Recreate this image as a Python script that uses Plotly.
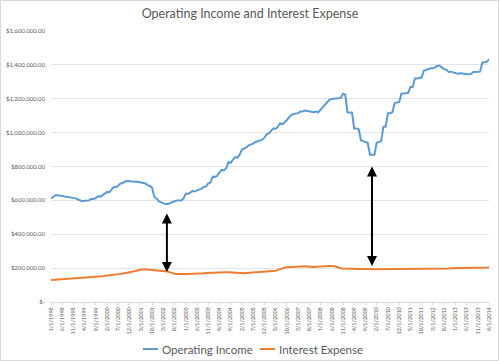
import plotly.graph_objects as go

# Monthly series, Jan 1998 .. Apr 2014 (values in thousands of dollars)
operating_income_k = [
    612, 622, 630, 630, 628, 625, 620, 618, 617, 615, 615, 612,
    605, 598, 595, 598, 600, 600, 610, 608, 615, 625, 622, 632,
    645, 650, 648, 665, 680, 678, 690, 700, 702, 712, 715, 712,
    712, 710, 712, 710, 708, 705, 700, 690, 685, 675, 620, 610,
    595, 588, 582, 578, 578, 585, 592, 595, 600, 602, 600, 612,
    640, 638, 645, 655, 652, 660, 665, 668, 680, 682, 700, 705,
    740, 738, 745, 765, 780, 778, 790, 825, 822, 840, 855, 852,
    870, 900, 905, 912, 925, 930, 935, 945, 950, 955, 958, 970,
    990, 995, 1010, 1025, 1022, 1035, 1055, 1050, 1060, 1075, 1090, 1105,
    1110, 1112, 1115, 1125, 1125, 1130, 1128, 1125, 1120, 1120, 1125, 1120,
    1135, 1150, 1165, 1180, 1195, 1198, 1200, 1205, 1205, 1205, 1230, 1225,
    1120, 1120, 1118, 1025, 1025, 1020, 955, 950, 945, 940, 870, 870,
    870, 940, 945, 950, 1035, 1035, 1115, 1115, 1120, 1175, 1178, 1180,
    1230, 1230, 1232, 1235, 1270, 1270, 1320, 1320, 1322, 1325, 1365, 1370,
    1378, 1380, 1380, 1385, 1395, 1395, 1385, 1375, 1372, 1358, 1360, 1356,
    1352, 1348, 1350, 1348, 1346, 1346, 1345, 1346, 1358, 1358, 1360, 1360,
    1413, 1415, 1418, 1433,
]
interest_expense_k = [
    130, 131, 132, 133, 133, 134, 135, 135, 136, 137, 137, 138,
    139, 140, 141, 141, 142, 144, 145, 146, 147, 149, 150, 152,
    155, 156, 158, 160, 162, 163, 165, 166, 168, 172, 175, 176,
    178, 182, 185, 187, 190, 192, 193, 192, 190, 189, 187, 186,
    185, 184, 183, 182, 180, 175, 170, 167, 166, 165, 165, 165,
    165, 166, 166, 167, 167, 168, 169, 170, 170, 171, 172, 172,
    173, 174, 175, 176, 177, 177, 176, 175, 174, 172, 171, 170,
    170, 170, 170, 171, 172, 172, 173, 174, 175, 176, 177, 178,
    178, 179, 180, 182, 185, 190, 195, 200, 203, 205, 206, 208,
    210, 211, 212, 212, 212, 211, 210, 208, 207, 207, 208, 208,
    208, 209, 211, 213, 214, 214, 212, 208, 203, 199, 198, 197,
    197, 197, 196, 196, 195, 195, 195, 196, 195, 195, 195, 194,
    194, 195, 195, 196, 196, 195, 195, 196, 196, 195, 196, 196,
    196, 196, 196, 195, 195, 194, 195, 196, 196, 196, 197, 197,
    197, 196, 196, 196, 197, 197, 197, 198, 198, 198, 199, 199,
    199, 200, 200, 200, 201, 201, 201, 202, 202, 202, 203, 203,
    203, 203, 203, 204,
]

series_names = ["Operating Income", "Interest Expense"]
series_colors = ["#5B9BD5", "#ED7D31"]

months = [f"{(i % 12) + 1}/1/{1998 + i // 12}" for i in range(len(operating_income_k))]
operating_income = [v * 1000 for v in operating_income_k]
interest_expense = [v * 1000 for v in interest_expense_k]

y_ticks = [0, 200000, 400000, 600000, 800000, 1000000, 1200000, 1400000, 1600000]
y_ticktext = ["$-", "$200,000.00", "$400,000.00", "$600,000.00", "$800,000.00",
              "$1,000,000.00", "$1,200,000.00", "$1,400,000.00", "$1,600,000.00"]

x_idx = list(range(len(months)))
tick_idx = x_idx[::5]
tick_text = [months[i] for i in tick_idx]

W, H = 500, 361
L, R, T, B = 51, 11, 31, 59
PW, PH = W - L - R, H - T - B

fig = go.Figure()
for name, ys, col in zip(series_names, [operating_income, interest_expense], series_colors):
    fig.add_trace(go.Scatter(x=x_idx, y=ys, mode="lines", name=name,
                             line=dict(color=col, width=2), showlegend=False))

# double-headed arrows (gap between series)
arrows = [(51.6, 531000, 177000), (142.9, 809000, 212000)]
for ax_, ytop, ybot in arrows:
    fig.add_annotation(x=ax_, y=ybot, ax=ax_, ay=ytop, xref="x", yref="y", axref="x", ayref="y",
                       showarrow=True, arrowhead=2, startarrowhead=2, arrowside="end+start",
                       arrowsize=1, startarrowsize=1, arrowwidth=2, arrowcolor="black", text="")

def px_x(p):
    return (p - L) / PW

def px_y(p):
    return (H - B - p) / PH

# manual legend at bottom
legend_items = [(143, series_names[0], series_colors[0]), (260, series_names[1], series_colors[1])]
for x0, name, col in legend_items:
    fig.add_shape(type="line", xref="paper", yref="paper",
                  x0=px_x(x0), x1=px_x(x0 + 15), y0=px_y(349), y1=px_y(349),
                  line=dict(color=col, width=2))
    fig.add_annotation(xref="paper", yref="paper", x=px_x(x0 + 16.5), y=px_y(349),
                       xanchor="left", yanchor="middle", showarrow=False, text=name,
                       font=dict(size=11.5, color="#595959"))

fig.update_layout(
    width=W, height=H,
    margin=dict(l=L, r=R, t=T, b=B, autoexpand=False),
    paper_bgcolor="white", plot_bgcolor="white",
    font=dict(family="Lato, Open Sans, sans-serif", color="#595959"),
    title=dict(text="Operating Income and Interest Expense", x=0.5, xanchor="center",
               y=1 - 14 / H, yanchor="middle", font=dict(size=12.5, color="#595959")),
    showlegend=False,
    xaxis=dict(range=[0, len(months) - 1], tickmode="array", tickvals=tick_idx, ticktext=tick_text,
               tickangle=-90, tickfont=dict(size=5.5, color="#595959"), showgrid=False,
               showline=True, linecolor="#d9d9d9", linewidth=1, ticks="outside", ticklen=2,
               tickcolor="#d9d9d9", zeroline=False, automargin=False),
    yaxis=dict(range=[0, 1600000], tickmode="array", tickvals=y_ticks, ticktext=y_ticktext,
               tickfont=dict(size=6, color="#595959"), showgrid=True, gridcolor="#e4e4e4",
               gridwidth=1, zeroline=False, showline=False, ticklabelstandoff=5, automargin=False),
)

# chart-area border
fig.add_shape(type="rect", xref="paper", yref="paper",
              x0=px_x(0.5), x1=px_x(W - 1.5), y0=px_y(H - 0.5), y1=px_y(0.5),
              line=dict(color="#d9d9d9", width=1))

fig.write_html(
    "out.html",
    config={"displayModeBar": False},
    post_script="document.body.style.margin='0';document.body.style.padding='0';"
                "document.body.style.overflow='hidden';",
)
